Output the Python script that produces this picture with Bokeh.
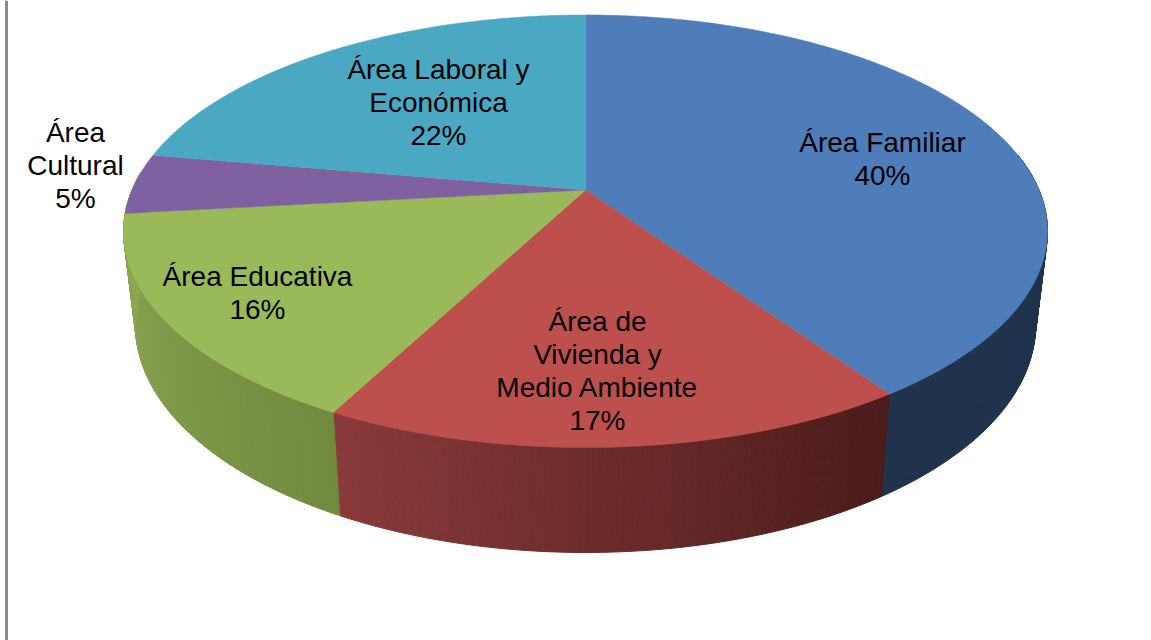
import math
from bokeh.plotting import figure
from bokeh.models import Range1d
from bokeh.core.properties import value
from bokeh.embed import file_html
from bokeh.resources import INLINE

# ---- data ----
categories = ["Área Familiar", "Área de Vivienda y Medio Ambiente", "Área Educativa", "Área Cultural", "Área Laboral y Económica"]
shares = [40.45, 17.2, 15.6, 4.5, 22.25]   # slice sizes
percent_labels = ["40%", "17%", "16%", "5%", "22%"]
label_lines = [["Área Familiar"], ["Área de", "Vivienda y", "Medio Ambiente"], ["Área Educativa"], ["Área", "Cultural"], ["Área Laboral y", "Económica"]]

# ---- style / layout ----
top_colors = ["#4E7DB9", "#BD4F4C", "#9ABA59", "#7F619F", "#4AA8C3"]
side_colors = [("#1F334D", "#1F334D"), ("#8A3A3A", "#4A1C1A"), ("#8CA752", "#728A3F"), ("#8CA752", "#8CA752"), ("#8CA752", "#8CA752")]
label_centres = [(882, 142), (597, 321), (257, 276), (75, 132), (438, 69)]
LINE_H = 33
W, H = 1151, 640
CX, CY = 585, 189.5
RX, RY, A = 453.5, 208.4, 0.1907
SX, SY0, SY = 0.974, 281.6, 1.05


def top_pt(deg):
    t = math.radians(deg)
    w = 1 + A * math.cos(t)
    return CX + RX * math.sin(t) / w, CY - RY * math.cos(t) / w


def bot_pt(deg):
    x, y = top_pt(deg)
    return CX + SX * (x - CX), SY0 + SY * (y - CY)


def mix(c1, c2, f):
    a = [int(c1[i:i + 2], 16) for i in (1, 3, 5)]
    b = [int(c2[i:i + 2], 16) for i in (1, 3, 5)]
    return "#%02x%02x%02x" % tuple(round(p + (q - p) * f) for p, q in zip(a, b))


p = figure(width=W, height=H, output_backend="svg", toolbar_location=None,
           x_range=Range1d(0, W), y_range=Range1d(H, 0), min_border=0,
           x_axis_type=None, y_axis_type=None,
           styles={"position": "absolute", "left": "0px", "top": "0px"})
p.grid.visible = False
p.outline_line_color = None
p.background_fill_color = "white"
p.border_fill_color = "white"

# window frame line on the left
p.line([6, 6], [0, H], line_color="#8C8C8C", line_width=3)

total = sum(shares)
edges = [0.0]
for s in shares:
    edges.append(edges[-1] + 360.0 * s / total)

# side wall, slice by slice, in thin shaded strips
for i in range(len(shares)):
    a0, a1 = max(edges[i], 80), min(edges[i + 1], 275)
    if a1 <= a0:
        continue
    n = max(2, int((a1 - a0) * 2))
    xs, ys, cols = [], [], []
    for k in range(n):
        d0 = a0 + (a1 - a0) * k / n
        d1 = a0 + (a1 - a0) * (k + 1) / n
        t0, t1, b1, b0 = top_pt(d0), top_pt(d1), bot_pt(d1), bot_pt(d0)
        xs.append([t0[0], t1[0], b1[0], b0[0]])
        ys.append([t0[1], t1[1], b1[1], b0[1]])
        f = k / (n - 1)
        # shade runs left to right on screen; angles grow right to left in the front
        cols.append(mix(side_colors[i][0], side_colors[i][1], 1 - f))
    p.patches(xs, ys, fill_color=cols, line_color=cols, line_width=1)

# top face
for i in range(len(shares)):
    a0, a1 = edges[i], edges[i + 1]
    n = max(8, int(a1 - a0))
    pts = [top_pt(a0 + (a1 - a0) * k / n) for k in range(n + 1)]
    p.patch([CX] + [q[0] for q in pts], [CY] + [q[1] for q in pts],
            fill_color=top_colors[i], line_color=top_colors[i], line_width=0.5)

# labels
for i in range(len(categories)):
    lines = label_lines[i] + [percent_labels[i]]
    cx, cy = label_centres[i]
    p.text([cx] * len(lines), [cy + LINE_H * k for k in range(len(lines))], text=lines,
           text_font=value("Liberation Sans"), text_font_size="28px", text_color="#000000",
           text_align="center", text_baseline="middle")

open("out.html", "w").write(file_html(p, INLINE))
